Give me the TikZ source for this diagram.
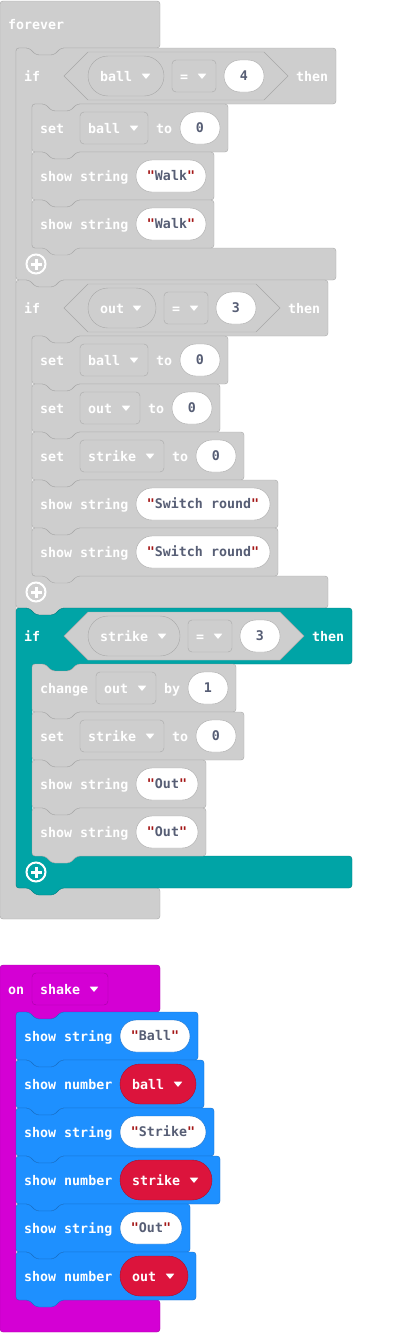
\documentclass[tikz,border=0pt]{standalone}
\usepackage{fontspec}
\newfontfamily\blkfont{DejaVu Sans Mono}
\usepackage{tikz}
\usepackage{xcolor}
\definecolor{blockgrey}{RGB}{206,206,206}
\definecolor{greyline}{RGB}{168,168,168}
\definecolor{logicteal}{RGB}{0,164,166}
\definecolor{tealline}{RGB}{0,128,130}
\definecolor{inputpink}{RGB}{212,0,212}
\definecolor{pinkline}{RGB}{165,0,165}
\definecolor{basicblue}{RGB}{30,144,255}
\definecolor{blueline}{RGB}{22,110,200}
\definecolor{varred}{RGB}{220,20,60}
\definecolor{redline}{RGB}{170,14,44}
\definecolor{valtext}{RGB}{87,94,117}
\definecolor{quotered}{RGB}{163,21,21}

\newcommand{\blk}{\blkfont\bfseries\fontsize{13.3}{16}\selectfont}
\newcommand{\quot}{\textcolor{quotered}{"}}

% statement block, 48 high: fill, line, x, y, width
\newcommand{\stmtblock}[5]{%
  \filldraw[fill=#1, draw=#2, rounded corners=3pt] (#3,#4) -- ({#3+13},#4) -- ({#3+20},{#4+7}) -- ({#3+38},{#4+7}) -- ({#3+45},#4) -- ({#3+#5},#4) -- ({#3+#5},{#4+48}) -- ({#3+45},{#4+48}) -- ({#3+38},{#4+55}) -- ({#3+20},{#4+55}) -- ({#3+13},{#4+48}) -- (#3,{#4+48}) -- cycle;}

% if block: fill, line, x, y, header width, inner height, arm width
\newcommand{\ifblock}[7]{%
  \filldraw[fill=#1, draw=#2, rounded corners=3pt] (#3,#4) -- ({#3+13},#4) -- ({#3+20},{#4+7}) -- ({#3+38},{#4+7}) -- ({#3+45},#4) -- ({#3+#5},#4) -- ({#3+#5},{#4+56}) -- ({#3+61},{#4+56}) -- ({#3+54},{#4+63}) -- ({#3+36},{#4+63}) -- ({#3+29},{#4+56}) -- ({#3+16},{#4+56}) -- ({#3+16},{#4+56+#6}) -- ({#3+#7},{#4+56+#6}) -- ({#3+#7},{#4+88+#6}) -- ({#3+45},{#4+88+#6}) -- ({#3+38},{#4+95+#6}) -- ({#3+20},{#4+95+#6}) -- ({#3+13},{#4+88+#6}) -- (#3,{#4+88+#6}) -- cycle;}

% flat top and bottom: fill, line, x, y, width, header height, inner height, arm height
\newcommand{\loopblock}[8]{%
  \filldraw[fill=#1, draw=#2, rounded corners=3pt] (#3,#4) -- ({#3+#5},#4) -- ({#3+#5},{#4+#6}) -- ({#3+61},{#4+#6}) -- ({#3+54},{#4+#6+7}) -- ({#3+36},{#4+#6+7}) -- ({#3+29},{#4+#6}) -- ({#3+16},{#4+#6}) -- ({#3+16},{#4+#6+#7}) -- ({#3+#5},{#4+#6+#7}) -- ({#3+#5},{#4+#6+#7+#8}) -- (#3,{#4+#6+#7+#8}) -- cycle;}

% condition: y centre, top right x
\newcommand{\condhex}[2]{%
  \filldraw[fill=blockgrey, draw=greyline] (64,#1) -- (88,{#1-24}) -- (#2,{#1-24}) -- ({#2+24},#1) -- (#2,{#1+24}) -- (88,{#1+24}) -- cycle;}

\newcommand{\ddarrow}[2]{%
  \fill[white, rounded corners=0.6pt] ({#1-4.5},{#2-2.5}) -- ({#1+4.5},{#2-2.5}) -- (#1,{#2+3}) -- cycle;}

\newcommand{\plusicon}[2]{%
  \draw[white, line width=2pt] (#1,#2) circle (9.5);
  \draw[white, line width=3pt] ({#1-5.5},#2) -- ({#1+5.5},#2) (#1,{#2-5.5}) -- (#1,{#2+5.5});}

\begin{document}
\begin{tikzpicture}[x=1pt, y=-1pt,
    lbl/.style={anchor=west, inner sep=0pt, text height=10pt, text depth=0pt, text=white, font=\blk},
    strpill/.style={draw=greyline, fill=white, rounded corners=16pt, minimum height=32pt, inner sep=0pt, text height=9pt, text depth=0pt, text=valtext, font=\blk},
    field/.style={draw=greyline, fill=blockgrey, rounded corners=4pt},
    roundfield/.style={draw=greyline, fill=blockgrey, rounded corners=20pt},
    varpill/.style={draw=redline, fill=varred, rounded corners=20pt}]
    \useasboundingbox (0,0) rectangle (404,1333);

    % forever
    \loopblock{blockgrey}{greyline}{0}{1}{160}{47}{840}{31}
    \node[lbl] (forever) at (8,24.5) {forever};

    % if ball = 4
    \ifblock{blockgrey}{greyline}{16}{48}{320}{144}{320}
    \node[lbl] (ifa) at (24,76) {if};
    \condhex{76}{264}
    \filldraw[roundfield] (88,56) rectangle (164,96);
    \node[lbl] (ballc) at (100,76) {ball}; \ddarrow{146}{76}
    \filldraw[field] (172,60) rectangle (216,92);
    \node[lbl] (eqa) at (180,76) {=}; \ddarrow{202}{76}
    \node[strpill, minimum width=40pt] (four) at (244,76) {4};
    \node[lbl] (thena) at (296,76) {then};

    \stmtblock{blockgrey}{greyline}{32}{104}{196}
    \node[lbl] (seta) at (40,128) {set};
    \filldraw[field] (80,112) rectangle (148,144);
    \node[lbl] (setball) at (88,128) {ball}; \ddarrow{134}{128}
    \node[lbl] (toa) at (156,128) {to};
    \node[strpill, minimum width=40pt] (zeroa) at (200,128) {0};

    \stmtblock{blockgrey}{greyline}{32}{152}{182}
    \node[lbl] (showa) at (40,176) {show string};
    \node[strpill, minimum width=70pt] (walka) at (171,176) {\quot Walk\quot};

    \stmtblock{blockgrey}{greyline}{32}{200}{182}
    \node[lbl] (showb) at (40,224) {show string};
    \node[strpill, minimum width=70pt] (walkb) at (171,224) {\quot Walk\quot};
    \plusicon{36}{264}

    % if out = 3
    \ifblock{blockgrey}{greyline}{16}{280}{312}{240}{312}
    \node[lbl] (ifb) at (24,308) {if};
    \condhex{308}{256}
    \filldraw[roundfield] (88,288) rectangle (156,328);
    \node[lbl] (outc) at (100,308) {out}; \ddarrow{137}{308}
    \filldraw[field] (164,292) rectangle (208,324);
    \node[lbl] (eqb) at (172,308) {=}; \ddarrow{194}{308}
    \node[strpill, minimum width=40pt] (threeb) at (236,308) {3};
    \node[lbl] (thenb) at (288,308) {then};

    \stmtblock{blockgrey}{greyline}{32}{336}{196}
    \node[lbl] (setb) at (40,360) {set};
    \filldraw[field] (80,344) rectangle (148,376);
    \node[lbl] (setballb) at (88,360) {ball}; \ddarrow{134}{360}
    \node[lbl] (tob) at (156,360) {to};
    \node[strpill, minimum width=40pt] (zerob) at (200,360) {0};

    \stmtblock{blockgrey}{greyline}{32}{384}{188}
    \node[lbl] (setc) at (40,408) {set};
    \filldraw[field] (80,392) rectangle (140,424);
    \node[lbl] (setout) at (88,408) {out}; \ddarrow{126}{408}
    \node[lbl] (toc) at (148,408) {to};
    \node[strpill, minimum width=40pt] (zeroc) at (192,408) {0};

    \stmtblock{blockgrey}{greyline}{32}{432}{212}
    \node[lbl] (setd) at (40,456) {set};
    \filldraw[field] (80,440) rectangle (164,472);
    \node[lbl] (setstrike) at (88,456) {strike}; \ddarrow{150}{456}
    \node[lbl] (tod) at (172,456) {to};
    \node[strpill, minimum width=40pt] (zerod) at (216,456) {0};

    \stmtblock{blockgrey}{greyline}{32}{480}{246}
    \node[lbl] (showc) at (40,504) {show string};
    \node[strpill, minimum width=134pt] (switcha) at (203,504) {\quot Switch round\quot};

    \stmtblock{blockgrey}{greyline}{32}{528}{246}
    \node[lbl] (showd) at (40,552) {show string};
    \node[strpill, minimum width=134pt] (switchb) at (203,552) {\quot Switch round\quot};
    \plusicon{36}{592}

    % if strike = 3
    \ifblock{logicteal}{tealline}{16}{608}{336}{192}{336}
    \node[lbl] (ifc) at (24,636) {if};
    \condhex{636}{280}
    \filldraw[roundfield] (88,616) rectangle (180,656);
    \node[lbl] (strikec) at (100,636) {strike}; \ddarrow{162}{636}
    \filldraw[field] (188,620) rectangle (232,652);
    \node[lbl] (eqc) at (196,636) {=}; \ddarrow{218}{636}
    \node[strpill, minimum width=40pt] (threec) at (260,636) {3};
    \node[lbl] (thenc) at (312,636) {then};

    \stmtblock{blockgrey}{greyline}{32}{664}{204}
    \node[lbl] (change) at (40,688) {change};
    \filldraw[field] (96,672) rectangle (156,704);
    \node[lbl] (changeout) at (104,688) {out}; \ddarrow{142}{688}
    \node[lbl] (by) at (164,688) {by};
    \node[strpill, minimum width=40pt] (one) at (208,688) {1};

    \stmtblock{blockgrey}{greyline}{32}{712}{212}
    \node[lbl] (sete) at (40,736) {set};
    \filldraw[field] (80,720) rectangle (164,752);
    \node[lbl] (setstrikeb) at (88,736) {strike}; \ddarrow{150}{736}
    \node[lbl] (toe) at (172,736) {to};
    \node[strpill, minimum width=40pt] (zeroe) at (216,736) {0};

    \stmtblock{blockgrey}{greyline}{32}{760}{174}
    \node[lbl] (showe) at (40,784) {show string};
    \node[strpill, minimum width=62pt] (outa) at (167,784) {\quot Out\quot};

    \stmtblock{blockgrey}{greyline}{32}{808}{174}
    \node[lbl] (showf) at (40,832) {show string};
    \node[strpill, minimum width=62pt] (outb) at (167,832) {\quot Out\quot};
    \plusicon{36}{872}

    % on shake
    \loopblock{inputpink}{pinkline}{0}{965}{160}{47}{288}{32}
    \node[lbl] (on) at (8,989) {on};
    \filldraw[draw=pinkline, fill=inputpink, rounded corners=4pt] (32,973) rectangle (108,1005);
    \node[lbl] (shake) at (40,989) {shake}; \ddarrow{94}{989}

    \stmtblock{basicblue}{blueline}{16}{1012}{182}
    \node[lbl] (showg) at (24,1036) {show string};
    \node[strpill, draw=blueline, minimum width=70pt] (ballstr) at (155,1036) {\quot Ball\quot};

    \stmtblock{basicblue}{blueline}{16}{1060}{188}
    \node[lbl] (numa) at (24,1084) {show number};
    \filldraw[varpill] (120,1064) rectangle (196,1104);
    \node[lbl] (ballvar) at (132,1084) {ball}; \ddarrow{178}{1084}

    \stmtblock{basicblue}{blueline}{16}{1108}{198}
    \node[lbl] (showh) at (24,1132) {show string};
    \node[strpill, draw=blueline, minimum width=86pt] (strikestr) at (163,1132) {\quot Strike\quot};

    \stmtblock{basicblue}{blueline}{16}{1156}{204}
    \node[lbl] (numb) at (24,1180) {show number};
    \filldraw[varpill] (120,1160) rectangle (212,1200);
    \node[lbl] (strikevar) at (132,1180) {strike}; \ddarrow{194}{1180}

    \stmtblock{basicblue}{blueline}{16}{1204}{174}
    \node[lbl] (showi) at (24,1228) {show string};
    \node[strpill, draw=blueline, minimum width=62pt] (outstr) at (151,1228) {\quot Out\quot};

    \stmtblock{basicblue}{blueline}{16}{1252}{180}
    \node[lbl] (numc) at (24,1276) {show number};
    \filldraw[varpill] (120,1256) rectangle (188,1296);
    \node[lbl] (outvar) at (132,1276) {out}; \ddarrow{170}{1276}
\end{tikzpicture}
\end{document}
